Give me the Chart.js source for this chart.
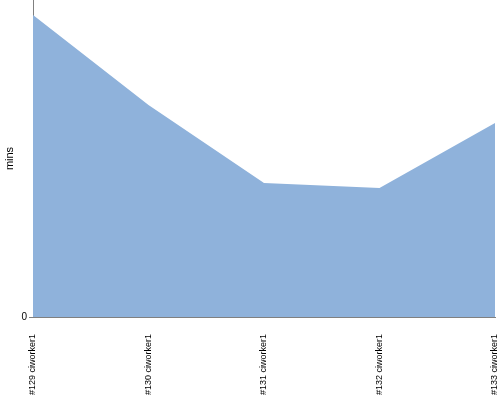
<!DOCTYPE html>
<html>
<head>
<meta charset="utf-8">
<script src="https://cdn.jsdelivr.net/npm/chart.js@4.4.0/dist/chart.umd.min.js"></script>
<style>
html,body{margin:0;padding:0;background:#fff;}
#wrap{width:500px;height:400px;}
</style>
</head>
<body>
<div id="wrap"><canvas id="c" width="500" height="400"></canvas></div>
<script>
const categories = ["#129 ciworker1", "#130 ciworker1", "#131 ciworker1", "#132 ciworker1", "#133 ciworker1"];
const minsValues = [95.3, 66.9, 42.3, 40.7, 61.2];
const yTickValues = [0];
const yMax = 100;

new Chart(document.getElementById('c'), {
  type: 'line',
  data: {
    labels: categories,
    datasets: [{
      label: 'mins',
      data: minsValues,
      fill: 'origin',
      backgroundColor: 'rgb(143,178,219)',
      borderWidth: 0,
      borderColor: 'rgba(0,0,0,0)',
      pointRadius: 0,
      tension: 0
    }]
  },
  options: {
    responsive: false,
    animation: false,
    layout: { padding: { top: 0, right: 5, left: 0, bottom: 0 } },
    plugins: { legend: { display: false }, tooltip: { enabled: false } },
    scales: {
      x: {
        offset: false,
        grid: { display: false },
        border: { display: true, color: '#808080', width: 1 },
        ticks: {
          minRotation: 90, maxRotation: 90, autoSkip: false,
          padding: 9,
          color: '#000',
          font: { family: 'Liberation Sans', size: 9 }
        },
        afterFit: (s) => { s.height = 83; s.paddingLeft = 0; s.paddingRight = 0; }
      },
      y: {
        min: 0, max: yMax,
        afterBuildTicks: (s) => { s.ticks = yTickValues.map(v => ({ value: v })); },
        grid: { drawOnChartArea: false, tickLength: 4, color: '#808080' },
        border: { display: true, color: '#808080', width: 1 },
        ticks: { color: '#000', padding: 2, font: { family: 'Liberation Sans', size: 10 } },
        title: { display: true, text: 'mins', color: '#000', padding: { top: 3, bottom: 0 }, font: { family: 'Liberation Sans', size: 11 } },
        afterFit: (s) => { s.width = 33; s.paddingTop = 0; s.paddingBottom = 0; }
      }
    }
  }
});
</script>
</body>
</html>
